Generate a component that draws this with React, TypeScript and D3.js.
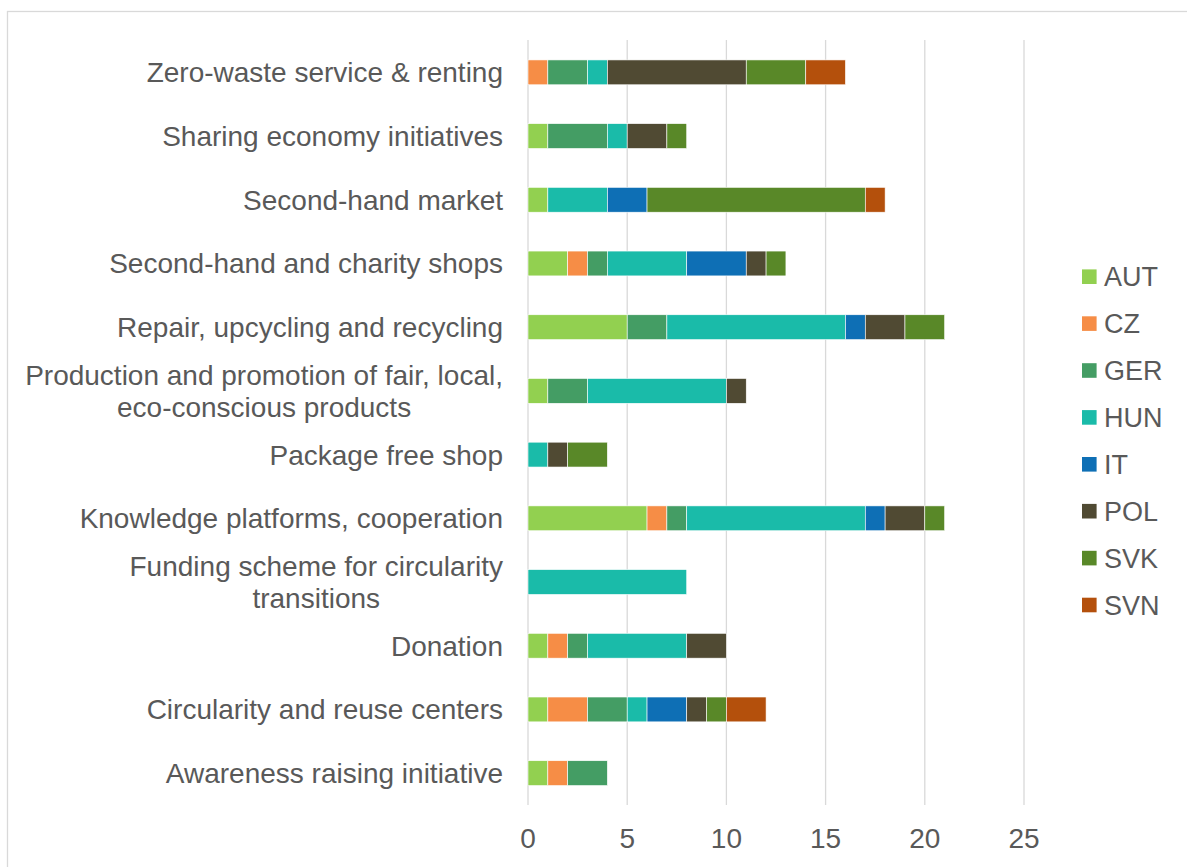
import React, { useEffect, useRef } from "react";
import * as d3 from "d3";

const categories = [
  "Zero-waste service & renting",
  "Sharing economy initiatives",
  "Second-hand market",
  "Second-hand and charity shops",
  "Repair, upcycling and recycling",
  "Production and promotion of fair, local,\neco-conscious products",
  "Package free shop",
  "Knowledge platforms, cooperation",
  "Funding scheme for circularity\ntransitions",
  "Donation",
  "Circularity and reuse centers",
  "Awareness raising initiative",
];

const seriesNames = ["AUT", "CZ", "GER", "HUN", "IT", "POL", "SVK", "SVN"];
const seriesColors = ["#92D050", "#F68D46", "#449D64", "#1ABBA9", "#0E6FB5", "#504A33", "#598828", "#B4500C"];

// values per category, in category order
const AUT = [0, 1, 1, 2, 5, 1, 0, 6, 0, 1, 1, 1];
const CZ = [1, 0, 0, 1, 0, 0, 0, 1, 0, 1, 2, 1];
const GER = [2, 3, 0, 1, 2, 2, 0, 1, 0, 1, 2, 2];
const HUN = [1, 1, 3, 4, 9, 7, 1, 9, 8, 5, 1, 0];
const IT = [0, 0, 2, 3, 1, 0, 0, 1, 0, 0, 2, 0];
const POL = [7, 2, 0, 1, 2, 1, 1, 2, 0, 2, 1, 0];
const SVK = [3, 1, 11, 1, 2, 0, 2, 1, 0, 0, 1, 0];
const SVN = [2, 0, 1, 0, 0, 0, 0, 0, 0, 0, 2, 0];

const xTicks = [0, 5, 10, 15, 20, 25];

const seriesValues = [AUT, CZ, GER, HUN, IT, POL, SVK, SVN];

export default function App() {
  const ref = useRef<SVGSVGElement>(null);

  useEffect(() => {
    const svg = d3.select(ref.current);
    svg.selectAll("*").remove();
    const font = "'Liberation Sans', Arial, sans-serif";
    const textColor = "#595959";
    const fs = 28;

    svg.append("rect")
      .attr("x", 7.5).attr("y", 11.5).attr("width", 1200).attr("height", 900)
      .attr("fill", "#fff").attr("stroke", "#d9d9d9").attr("stroke-width", 1.3);

    const x = d3.scaleLinear().domain([0, 25]).range([528, 1024]);
    const y = d3.scaleBand<string>().domain(categories).range([40.5, 805]).paddingInner(0.61).paddingOuter(0.305);

    // gridlines
    svg.append("g").selectAll("line").data(xTicks).join("line")
      .attr("x1", (d) => x(d)).attr("x2", (d) => x(d))
      .attr("y1", 40).attr("y2", 805)
      .attr("stroke", "#d9d9d9").attr("stroke-width", 1.3);

    // tick labels
    svg.append("g").selectAll("text").data(xTicks).join("text")
      .attr("x", (d) => x(d)).attr("y", 848)
      .attr("text-anchor", "middle")
      .attr("font-family", font).attr("font-size", fs).attr("fill", textColor)
      .text((d) => String(d));

    // stacked data
    const rows = categories.map((c, i) => {
      const o: any = { cat: c };
      seriesNames.forEach((s, j) => (o[s] = seriesValues[j][i]));
      return o;
    });
    const stacked = d3.stack<any>().keys(seriesNames)(rows);

    const g = svg.append("g");
    stacked.forEach((layer, j) => {
      g.append("g").selectAll("rect").data(layer.filter((d) => d[1] - d[0] > 0)).join("rect")
        .attr("x", (d) => x(d[0]))
        .attr("width", (d) => x(d[1]) - x(d[0]))
        .attr("y", (d) => y(d.data.cat) as number)
        .attr("height", y.bandwidth())
        .attr("fill", seriesColors[j])
        .attr("stroke", "#ffffff").attr("stroke-width", 0.6);
    });

    // category labels
    const lab = svg.append("g");
    categories.forEach((c) => {
      const lines = c.split("\n");
      const cy = (y(c) as number) + y.bandwidth() / 2;
      const lh = 32;
      const t = lab.append("text")
        .attr("font-family", font).attr("font-size", fs).attr("fill", textColor)
        .attr("text-anchor", "middle");
      const spans = lines.map((l, i) =>
        t.append("tspan").attr("y", cy + 10 + (i - (lines.length - 1) / 2) * lh).text(l)
      );
      let maxW = 0;
      spans.forEach((s) => {
        const n = s.node() as SVGTSpanElement;
        maxW = Math.max(maxW, n.getComputedTextLength());
      });
      const cx = 503 - maxW / 2;
      spans.forEach((s) => s.attr("x", cx));
    });

    // legend
    const leg = svg.append("g");
    seriesNames.forEach((s, i) => {
      const ly = 276.7 + i * 46.9;
      leg.append("rect").attr("x", 1082).attr("y", ly - 7.3).attr("width", 14.6).attr("height", 14.6).attr("fill", seriesColors[i]);
      leg.append("text").attr("x", 1104).attr("y", ly + 9.5)
        .attr("font-family", font).attr("font-size", 27).attr("fill", textColor).text(s);
    });
  }, []);

  return (
    <svg ref={ref} width={1187} height={867} style={{ position: "absolute", left: 0, top: 0, display: "block" }} />
  );
}
